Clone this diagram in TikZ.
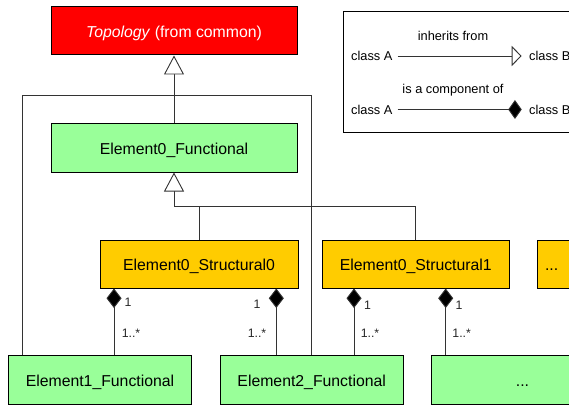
\documentclass[tikz,border=0pt]{standalone}
\usepackage{fontspec}
\setmainfont{Liberation Sans}
\usetikzlibrary{arrows.meta,calc}
\definecolor{topored}{HTML}{FF0000}
\definecolor{funcgreen}{HTML}{99FF99}
\definecolor{structyellow}{HTML}{FFCC00}

\begin{document}
\begin{tikzpicture}[x=1pt,y=-1pt,
  box/.style={draw=black, line width=1pt, minimum height=48pt, inner sep=0pt,
    text height=14pt, text depth=1.3pt,
    font=\fontsize{15.8}{18}\selectfont},
  func/.style={box, fill=funcgreen},
  struct/.style={box, fill=structyellow},
  link/.style={draw=black!80, line width=0.9pt},
  inh/.style={link, -{Triangle[length=19pt,width=20pt,fill=white]}},
  comp/.style={link, {Diamond[length=19.5pt,width=15pt,fill=black]}-},
  mult/.style={font=\fontsize{12.3}{14}\selectfont, inner sep=0pt, text=black!85},
  legtext/.style={font=\fontsize{12.8}{15}\selectfont, inner sep=0pt},
]
\useasboundingbox (0,0) rectangle (569,406);
\clip (0,0) rectangle (569,406);

% class boxes
\node[box, fill=topored, text=white, minimum width=246pt] (topo) at (174,31) {\textit{Topology} (from common)};
\node[func, minimum width=246pt] (e0f) at (174,148) {Element0\_Functional};
\node[struct, minimum width=198pt] (s0) at (199,264) {Element0\_Structural0};
\node[struct, minimum width=187pt] (s1) at (415.8,264) {Element0\_Structural1};
\node[struct, minimum width=63pt] (s2) at (568.8,264) {\makebox[47.6pt][l]{...}};
\node[func, minimum width=183.4pt, minimum height=48.3pt] (e1f) at (100,380) {Element1\_Functional};
\node[func, minimum width=183.3pt, minimum height=48.3pt] (e2f) at (311.7,380) {Element2\_Functional};
\node[func, minimum width=181.6pt, minimum height=48.3pt] (e3f) at (522.5,380) {...};

% inheritance
\draw[inh] (e0f.north) -- (topo.south);
\coordinate (join) at (174,206);
\draw[link] (s1.north) |- (join);
\draw[inh] (s0.north) |- (join) -- (e0f.south);

% frame linking the two functional elements
\coordinate (frameL) at (22.7,95);
\draw[link] (e1f.north -| frameL) -- (frameL) -| (e2f.north);

% composition
\coordinate (c1) at (114,0);
\coordinate (c2) at (276.3,0);
\coordinate (c3) at (354,0);
\coordinate (c4) at (445.7,0);
\draw[comp] (s0.south -| c1) -- (e1f.north -| c1);
\draw[comp] (s0.south -| c2) -- (e2f.north -| c2);
\draw[comp] (s1.south -| c3) -- (e2f.north -| c3);
\draw[comp] (s1.south -| c4) -- (e3f.north -| c4);

% multiplicities
\node[mult] (m1) at (128,302) {1};
\node[mult] (n1) at (131,333.5) {1..*};
\node[mult] (m2) at (257,304) {1};
\node[mult] (n2) at (257,333.5) {1..*};
\node[mult] (m3) at (367.5,305) {1};
\node[mult] (n3) at (370,333.5) {1..*};
\node[mult] (m4) at (459,305) {1};
\node[mult] (n4) at (461.7,333.5) {1..*};

% legend
\draw[black, line width=0.9pt] (343.3,11.7) rectangle (600,132.7);
\node[legtext] (inhlab) at (453,36) {inherits from};
\node[legtext, anchor=west] (la1) at (351,56) {class A};
\node[legtext, anchor=west] (lb1) at (529,56) {class B};
\draw[link, shorten <=5pt, shorten >=7.3pt,
  -{Triangle[length=10pt,width=20pt,fill=white]}] (la1) -- (lb1);
\node[legtext] (complab) at (453,90) {is a component of};
\node[legtext, anchor=west] (la2) at (351,109.5) {class A};
\node[legtext, anchor=west] (lb2) at (529,109.5) {class B};
\draw[link, shorten <=5pt, shorten >=7.3pt,
  -{Diamond[length=13.5pt,width=19pt,fill=black]}] (la2) -- (lb2);
\end{tikzpicture}
\end{document}
